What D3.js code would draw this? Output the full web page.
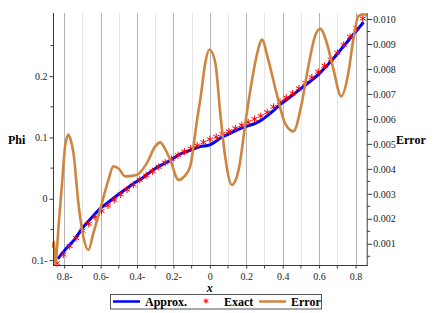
<!DOCTYPE html>
<html>
<head>
<meta charset="utf-8">
<script src="https://cdn.jsdelivr.net/npm/d3@7"></script>
<style>
body{margin:0;background:#fff;}
.TickText{font-family:"Liberation Serif",serif;font-size:10px;fill:#222;}
.AxisTitle{font-family:"Liberation Serif",serif;font-size:12px;font-weight:bold;fill:#000;}
</style>
</head>
<body>
<div id="idChart"></div>
<script>
// approximate solution (blue line)
var aApproxX=[-0.835,-0.80,-0.74,-0.695,-0.65,-0.603,-0.55,-0.511,-0.46,-0.42,-0.37,-0.328,-0.273,-0.218,-0.163,-0.108,-0.053,0.0,0.03,0.057,0.10,0.148,0.20,0.25,0.276,0.33,0.396,0.45,0.505,0.55,0.597,0.64,0.688,0.73,0.78,0.844];
var aApproxPhi=[-0.098,-0.085,-0.065,-0.046,-0.031,-0.016,-0.004,0.005,0.016,0.0245,0.034,0.0435,0.054,0.0624,0.073,0.079,0.085,0.088,0.093,0.099,0.105,0.112,0.118,0.123,0.127,0.139,0.156,0.168,0.181,0.191,0.203,0.216,0.232,0.247,0.265,0.288];

// exact solution (red stars)
var aExactX=[-0.84,-0.805,-0.77,-0.735,-0.70,-0.665,-0.63,-0.595,-0.56,-0.525,-0.49,-0.455,-0.42,-0.385,-0.35,-0.315,-0.28,-0.245,-0.21,-0.175,-0.14,-0.105,-0.07,-0.035,0.0,0.035,0.07,0.105,0.14,0.175,0.21,0.245,0.28,0.315,0.35,0.385,0.42,0.455,0.49,0.525,0.56,0.595,0.63,0.665,0.70,0.735,0.77,0.805,0.84];
var aExactPhi=[-0.105,-0.091,-0.077,-0.064,-0.052,-0.041,-0.030,-0.020,-0.011,-0.002,0.007,0.015,0.023,0.031,0.038,0.045,0.052,0.059,0.065,0.071,0.077,0.082,0.087,0.092,0.097,0.101,0.106,0.110,0.115,0.120,0.125,0.130,0.135,0.141,0.150,0.158,0.165,0.172,0.180,0.189,0.198,0.207,0.217,0.227,0.238,0.251,0.264,0.278,0.294];

// error curve (right axis)
var aErrorX=[-0.8615,-0.857,-0.853,-0.849,-0.843,-0.83,-0.813,-0.795,-0.777,-0.762,-0.749,-0.722,-0.695,-0.667,-0.64,-0.603,-0.557,-0.53,-0.50,-0.465,-0.43,-0.40,-0.346,-0.30,-0.273,-0.25,-0.218,-0.172,-0.14,-0.108,-0.07,-0.05,-0.025,-0.002,0.03,0.057,0.084,0.121,0.158,0.203,0.249,0.276,0.286,0.32,0.366,0.412,0.459,0.505,0.541,0.578,0.606,0.642,0.679,0.721,0.761,0.788,0.816,0.843,0.8615];
var aErrorVal=[0.00085,0.0011,0.0006,0.0002,0.0005,0.0018,0.0033,0.0049,0.00537,0.0051,0.00463,0.00263,0.00129,0.00075,0.00142,0.00236,0.00356,0.0041,0.0040,0.0037,0.00372,0.00376,0.00423,0.0049,0.00506,0.00485,0.00437,0.00356,0.0037,0.0041,0.00597,0.0069,0.00825,0.00878,0.00825,0.00624,0.0045,0.00336,0.00396,0.00624,0.00825,0.00905,0.00918,0.00838,0.00704,0.00584,0.0055,0.00664,0.00811,0.00932,0.00961,0.00905,0.00798,0.0069,0.00785,0.00918,0.01012,0.01019,0.01015];

// ticks and labels
var aXTicks=[-0.8,-0.6,-0.4,-0.2,0,0.2,0.4,0.6,0.8];
var aXTickLabels=["0.8-","0.6-","0.4-","0.2-","0","0.2","0.4","0.6","0.8"];
var aXMinor=[-0.7,-0.5,-0.3,-0.1,0.1,0.3,0.5,0.7];
var aPhiTicks=[-0.1,0,0.1,0.2];
var aPhiTickLabels=["0.1-","0","0.1","0.2"];
var aPhiMinor=[-0.05,0.05,0.15,0.25];
var aErrTicks=[0.001,0.002,0.003,0.004,0.005,0.006,0.007,0.008,0.009,0.010];
var aErrTickLabels=["0.001","0.002","0.003","0.004","0.005","0.006","0.007","0.008","0.009","0.010"];
var aErrMinor=[0.0005,0.0015,0.0025,0.0035,0.0045,0.0055,0.0065,0.0075,0.0085,0.0095];

var aLegendNames=["Approx.","Exact","Error"];

function DrawErrorChart()
{
	var iWidth=440;
	var iHeight=313;
	var iLeft=53;
	var iRight=366.7;
	var iTop=13;
	var iBottom=265;
	var sAxisColor="#3a3a3a";
	var sBlue="#0000ff";
	var sRed="#ff0000";
	var sOrange="#cd853f";

	var myCanvas=d3.select("#idChart").append("svg")
		.attr("width",iWidth)
		.attr("height",iHeight);

	var xAxes=d3.scaleLinear().domain([-0.8615,0.8615]).range([iLeft,iRight]);
	var yPhi=d3.scaleLinear().domain([-0.108,0.303]).range([iBottom,iTop]);
	var yErr=d3.scaleLinear().domain([0.00015,0.01024]).range([iBottom,iTop]);

	// grid
	myCanvas.append("g").selectAll("line").data(aXMinor).enter().append("line")
		.attr("x1",function(d){return Math.round(xAxes(d))+0.5;})
		.attr("x2",function(d){return Math.round(xAxes(d))+0.5;})
		.attr("y1",iTop).attr("y2",iBottom)
		.attr("stroke","#e6e6e6");
	myCanvas.append("g").selectAll("line").data(aXTicks).enter().append("line")
		.attr("x1",function(d){return Math.round(xAxes(d))+0.5;})
		.attr("x2",function(d){return Math.round(xAxes(d))+0.5;})
		.attr("y1",iTop).attr("y2",iBottom)
		.attr("stroke","#b4b4b4");

	var myPlot=myCanvas.append("g");

	var lineApprox=d3.line()
		.x(function(d,i){return xAxes(aApproxX[i]);})
		.y(function(d){return yPhi(d);})
		.curve(d3.curveMonotoneX);
	myPlot.append("path")
		.attr("d",lineApprox(aApproxPhi))
		.attr("fill","none")
		.attr("stroke",sBlue)
		.attr("stroke-width",3);

	var myStar=d3.symbol().type(d3.symbolAsterisk).size(34);
	myPlot.selectAll(".ExactStar").data(aExactPhi).enter().append("path")
		.attr("class","ExactStar")
		.attr("d",myStar)
		.attr("transform",function(d,i){return "translate("+xAxes(aExactX[i])+","+yPhi(d)+")";})
		.attr("fill","none")
		.attr("stroke",sRed)
		.attr("stroke-width",1);

	var lineError=d3.line()
		.x(function(d,i){return xAxes(aErrorX[i]);})
		.y(function(d){return yErr(d);})
		.curve(d3.curveMonotoneX);
	myPlot.append("path")
		.attr("d",lineError(aErrorVal))
		.attr("fill","none")
		.attr("stroke",sOrange)
		.attr("stroke-width",2.6);

	// axes
	var myLeftAxis=d3.axisLeft(yPhi).tickValues(aPhiTicks).tickSize(4).tickPadding(2)
		.tickFormat(function(d,i){return aPhiTickLabels[i];});
	var gLeft=myCanvas.append("g").attr("transform","translate("+(iLeft+0.5)+",0)").call(myLeftAxis);
	gLeft.append("g").selectAll("line").data(aPhiMinor).enter().append("line")
		.attr("x1",-3).attr("x2",0)
		.attr("y1",function(d){return yPhi(d);}).attr("y2",function(d){return yPhi(d);})
		.attr("stroke",sAxisColor);

	var myBottomAxis=d3.axisBottom(xAxes).tickValues(aXTicks).tickSize(3).tickPadding(4)
		.tickFormat(function(d,i){return aXTickLabels[i];});
	var gBottom=myCanvas.append("g").attr("transform","translate(0,"+(iBottom+0.5)+")").call(myBottomAxis);
	gBottom.append("g").selectAll("line").data(aXMinor).enter().append("line")
		.attr("x1",function(d){return xAxes(d);}).attr("x2",function(d){return xAxes(d);})
		.attr("y1",0).attr("y2",3)
		.attr("stroke",sAxisColor);

	var myRightAxis=d3.axisRight(yErr).tickValues(aErrTicks).tickSize(5).tickPadding(1)
		.tickFormat(function(d,i){return aErrTickLabels[i];});
	var gRight=myCanvas.append("g").attr("transform","translate("+(iRight+0.5)+",0)").call(myRightAxis);
	gRight.append("g").selectAll("line").data(aErrMinor).enter().append("line")
		.attr("x1",0).attr("x2",3)
		.attr("y1",function(d){return yErr(d);}).attr("y2",function(d){return yErr(d);})
		.attr("stroke",sAxisColor);

	[gLeft,gBottom,gRight].forEach(function(g){
		g.select(".domain").attr("stroke",sAxisColor).attr("d",null);
		g.selectAll(".tick line").attr("stroke",sAxisColor);
		g.selectAll(".tick text").attr("class","TickText").attr("fill",null);
		g.attr("font-family",null).attr("font-size",null);
	});
	gLeft.select(".domain").remove();
	gBottom.select(".domain").remove();
	gRight.select(".domain").remove();
	myCanvas.append("line").attr("x1",iLeft+0.5).attr("x2",iLeft+0.5).attr("y1",iTop).attr("y2",iBottom+1).attr("stroke",sAxisColor);
	myCanvas.append("line").attr("x1",iRight+0.5).attr("x2",iRight+0.5).attr("y1",iTop).attr("y2",iBottom+1).attr("stroke",sAxisColor);
	myCanvas.append("line").attr("x1",iLeft).attr("x2",iRight+1).attr("y1",iBottom+0.5).attr("y2",iBottom+0.5).attr("stroke",sAxisColor);

	// titles
	myCanvas.append("text").attr("class","AxisTitle").attr("x",8).attr("y",144).text("Phi");
	myCanvas.append("text").attr("class","AxisTitle").attr("x",396).attr("y",144).text("Error");
	myCanvas.append("text").attr("class","AxisTitle").attr("x",xAxes(0)).attr("y",292)
		.attr("text-anchor","middle").attr("font-style","italic").text("x");

	// legend
	var gLegend=myCanvas.append("g");
	gLegend.append("rect").attr("x",110.5).attr("y",294.5).attr("width",211).attr("height",14.5)
		.attr("fill","#fff").attr("stroke","#555");
	gLegend.append("line").attr("x1",113).attr("x2",140).attr("y1",301.5).attr("y2",301.5)
		.attr("stroke",sBlue).attr("stroke-width",2.5);
	gLegend.append("text").attr("class","AxisTitle").attr("x",145).attr("y",306).text(aLegendNames[0]);
	gLegend.append("path").attr("d",d3.symbol().type(d3.symbolAsterisk).size(20))
		.attr("transform","translate(206,301)")
		.attr("fill","none").attr("stroke",sRed).attr("stroke-width",1);
	gLegend.append("text").attr("class","AxisTitle").attr("x",224).attr("y",306).text(aLegendNames[1]);
	gLegend.append("line").attr("x1",259).attr("x2",286).attr("y1",301.5).attr("y2",301.5)
		.attr("stroke",sOrange).attr("stroke-width",2.5);
	gLegend.append("text").attr("class","AxisTitle").attr("x",291).attr("y",306).text(aLegendNames[2]);
}

DrawErrorChart();
</script>
</body>
</html>
